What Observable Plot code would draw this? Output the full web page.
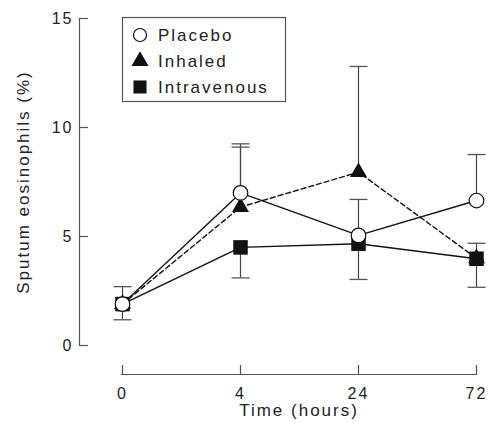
<!DOCTYPE html>
<html><head><meta charset="utf-8">
<script src="https://cdn.jsdelivr.net/npm/d3@7"></script>
<script src="https://cdn.jsdelivr.net/npm/@observablehq/plot@0.6"></script>
<style>body{margin:0;background:#fff}</style>
</head><body><div id="chart"></div>
<script>
// ---- data ----
const times = ["0", "4", "24", "72"];
const seriesNames = ["Placebo", "Inhaled", "Intravenous"];
const placebo = [1.9, 7.0, 5.05, 6.65];
const inhaled = [1.9, 6.35, 7.95, 4.0];
const intravenous = [1.9, 4.5, 4.67, 3.98];
const placeboUpper = [2.7, 9.25, 6.7, 8.76];
const inhaledUpper = [null, 9.1, 12.8, 4.69];
const intravenousLower = [1.18, 3.1, 3.03, 2.67];
const yTicks = [0, 5, 10, 15];
const xTitle = "Time (hours)";
const yTitle = "Sputum eosinophils (%)";

// ---- long tables ----
const means = {Placebo: placebo, Inhaled: inhaled, Intravenous: intravenous};
const bounds = {Placebo: placeboUpper, Inhaled: inhaledUpper, Intravenous: intravenousLower};
const rows = seriesNames.flatMap(s => times.map((t, i) => ({series: s, time: t, value: means[s][i], bound: bounds[s][i]})));
const errRows = rows.filter(d => d.bound != null);
const bySeries = s => rows.filter(d => d.series === s);

const capSymbol = {draw(ctx, size) { const w = Math.sqrt(size / Math.PI); ctx.moveTo(-w, 0); ctx.lineTo(w, 0); }};
const AX = "#555", INK = "#111";

function legend(index, scales) {
  const left = scales.x(times[0]), top = scales.y(d3.max(yTicks)) - 1;
  const g = d3.create("svg:g").attr("text-anchor", "start");
  g.append("rect").attr("x", left + 0.5).attr("y", top + 0.5).attr("width", 163).attr("height", 84)
    .attr("fill", "white").attr("stroke", AX).attr("stroke-width", 1.2);
  seriesNames.forEach((name, i) => {
    const cy = top + 18 + i * 26, cx = left + 18;
    if (name === "Placebo") {
      g.append("circle").attr("cx", cx).attr("cy", cy).attr("r", 6.5).attr("fill", "white").attr("stroke", INK).attr("stroke-width", 1.2);
    } else {
      const type = name === "Inhaled" ? d3.symbolTriangle : d3.symbolSquare;
      const size = name === "Inhaled" ? 125 : 170;
      g.append("path").attr("d", d3.symbol(type, size)()).attr("transform", `translate(${cx},${cy})`).attr("fill", INK);
    }
    g.append("text").attr("x", left + 36).attr("y", cy).attr("dy", "0.35em")
      .attr("font-size", 17).attr("fill", "#222").text(name);
  });
  return g.node();
}

const chart = Plot.plot({
  width: 488, height: 422,
  marginLeft: 79, marginTop: 18, marginRight: 12, marginBottom: 48,
  style: {fontFamily: "'Liberation Sans', Arial, sans-serif", fontSize: "16px", letterSpacing: "2px", color: "#222", background: "white"},
  x: {type: "point", domain: times, range: [121, 476], padding: 0},
  y: {domain: [0, 15], range: [345, 18]},
  marks: [
    Plot.frame({anchor: "left", insetBottom: 29, stroke: AX, strokeWidth: 1.2}),
    Plot.frame({anchor: "bottom", insetLeft: 42, stroke: AX, strokeWidth: 1.2}),
    Plot.axisY({ticks: yTicks, tickSize: -9, tickPadding: 15, fontSize: 16, label: null, stroke: AX, strokeWidth: 1.2}),
    Plot.axisX({tickSize: -9, tickPadding: 22, fontSize: 16, label: null, stroke: AX, strokeWidth: 1.2}),
    Plot.text([yTitle], {text: d => d, frameAnchor: "left", textAnchor: "middle", lineAnchor: "middle", y: d3.mean(d3.extent(yTicks)), rotate: -90, dx: -56, fontSize: 17}),
    Plot.text([xTitle], {text: d => d, frameAnchor: "bottom", textAnchor: "middle", lineAnchor: "middle", dx: 21, dy: 36.5, fontSize: 17}),
    Plot.ruleX(errRows, {x: "time", y1: "value", y2: "bound", stroke: "#444", strokeWidth: 1.2}),
    Plot.dot(errRows, {x: "time", y: "bound", symbol: capSymbol, r: 9, stroke: "#555", strokeWidth: 1.3, fill: "none"}),
    Plot.line(bySeries("Intravenous"), {x: "time", y: "value", stroke: INK, strokeWidth: 1.4}),
    Plot.line(bySeries("Inhaled"), {x: "time", y: "value", stroke: INK, strokeWidth: 1.4, strokeDasharray: "5,3"}),
    Plot.line(bySeries("Placebo"), {x: "time", y: "value", stroke: INK, strokeWidth: 1.4}),
    Plot.dot(bySeries("Intravenous"), {x: "time", y: "value", symbol: "square", r: 8.2, fill: INK, stroke: "none"}),
    Plot.dot(bySeries("Inhaled"), {x: "time", y: "value", symbol: "triangle", r: 6.3, fill: INK, stroke: "none"}),
    Plot.dot(bySeries("Placebo"), {x: "time", y: "value", symbol: "circle", r: 7.3, fill: "white", stroke: INK, strokeWidth: 1.2}),
    legend
  ]
});
document.getElementById("chart").append(chart);
</script>
</body></html>
